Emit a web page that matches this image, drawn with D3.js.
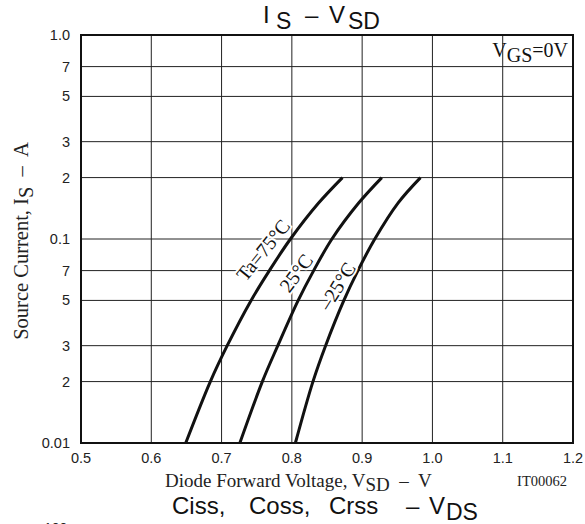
<!DOCTYPE html>
<html>
<head>
<meta charset="utf-8">
<script src="https://cdn.jsdelivr.net/npm/d3@7"></script>
<style>
  body { margin: 0; background: #fff; }
  text { white-space: pre; }
  .sans { font-family: "Liberation Sans", Arial, sans-serif; }
  .serif { font-family: "Liberation Serif", "Times New Roman", serif; }
</style>
</head>
<body>
<div id="chart"></div>
<script>
// Is - Vsd data
const currents = [0.01, 0.02, 0.03, 0.05, 0.07, 0.1, 0.15, 0.2];
const vsd75 = [0.649, 0.684, 0.708, 0.742, 0.768, 0.798, 0.838, 0.872];
const vsd25 = [0.726, 0.758, 0.780, 0.809, 0.831, 0.857, 0.895, 0.928];
const vsdM25 = [0.805, 0.830, 0.848, 0.874, 0.894, 0.918, 0.951, 0.983];

const xTicks = [0.5, 0.6, 0.7, 0.8, 0.9, 1.0, 1.1, 1.2];
const yTicks = [1, 0.7, 0.5, 0.3, 0.2, 0.1, 0.07, 0.05, 0.03, 0.02, 0.01];
const yTickLabels = ['1.0', '7', '5', '3', '2', '0.1', '7', '5', '3', '2', '0.01'];

const series = [
  { name: 'Ta=75°C', v: vsd75, lx: 263, ly: 250, rot: -51 },
  { name: '25°C', v: vsd25, lx: 296, ly: 273, rot: -53 },
  { name: '\u201325°C', v: vsdM25, lx: 337, ly: 286, rot: -58 }
];

const width = 585, height = 524;
const margin = { top: 35, right: 12, bottom: 81, left: 81 };
const innerW = width - margin.left - margin.right;
const innerH = height - margin.top - margin.bottom;

const svg = d3.select('#chart').append('svg')
  .attr('width', width)
  .attr('height', height);

const x = d3.scaleLinear().domain([0.5, 1.2]).range([margin.left, margin.left + innerW]);
const y = d3.scaleLog().domain([0.01, 1]).range([margin.top + innerH, margin.top]);

// grid
const grid = svg.append('g').attr('stroke', '#222').attr('stroke-width', 1);
grid.selectAll('line.vx')
  .data(xTicks.slice(1, -1))
  .join('line')
  .attr('x1', d => x(d)).attr('x2', d => x(d))
  .attr('y1', y(1)).attr('y2', y(0.01));
grid.selectAll('line.hy')
  .data(yTicks.slice(1, -1))
  .join('line')
  .attr('x1', x(0.5)).attr('x2', x(1.2))
  .attr('y1', d => y(d)).attr('y2', d => y(d));

// curves
const line = d3.line()
  .x(d => x(d[0]))
  .y(d => y(d[1]))
  .curve(d3.curveCatmullRom.alpha(0.5));

svg.selectAll('path.curve')
  .data(series)
  .join('path')
  .attr('class', 'curve')
  .attr('d', s => line(s.v.map((v, i) => [v, currents[i]])))
  .attr('fill', 'none')
  .attr('stroke', '#111')
  .attr('stroke-width', 3);

// curve labels, white halo breaks the grid behind them
svg.selectAll('text.lab')
  .data(series)
  .join('text')
  .attr('class', 'lab serif')
  .attr('transform', s => `translate(${s.lx},${s.ly}) rotate(${s.rot})`)
  .attr('text-anchor', 'middle')
  .attr('dy', '0.35em')
  .attr('font-size', 20)
  .attr('fill', '#111')
  .attr('stroke', '#fff')
  .attr('stroke-width', 4)
  .attr('paint-order', 'stroke')
  .text(s => s.name);

// frame
svg.append('rect')
  .attr('x', x(0.5)).attr('y', y(1))
  .attr('width', innerW).attr('height', innerH)
  .attr('fill', 'none')
  .attr('stroke', '#111')
  .attr('stroke-width', 2);

// tick labels
svg.selectAll('text.xt')
  .data(xTicks)
  .join('text')
  .attr('class', 'xt sans')
  .attr('x', d => x(d))
  .attr('y', y(0.01) + 20)
  .attr('text-anchor', 'middle')
  .attr('font-size', 14.5)
  .attr('fill', '#222')
  .text(d => d.toFixed(1));

svg.selectAll('text.yt')
  .data(yTicks)
  .join('text')
  .attr('class', 'yt sans')
  .attr('x', margin.left - 11)
  .attr('y', d => y(d))
  .attr('dy', '0.35em')
  .attr('text-anchor', 'end')
  .attr('font-size', 14.5)
  .attr('fill', '#222')
  .text((d, i) => yTickLabels[i]);

// title
const title = svg.append('text')
  .attr('class', 'sans')
  .attr('font-size', 24)
  .attr('fill', '#111');
title.append('tspan').attr('x', 263).attr('y', 23).text('I');
title.append('tspan').attr('x', 276).attr('y', 29).attr('font-size', 23).text('S');
title.append('tspan').attr('x', 305).attr('y', 23).text('\u2013');
title.append('tspan').attr('x', 329).attr('y', 23).text('V');
title.append('tspan').attr('x', 348).attr('y', 29).attr('font-size', 23).text('SD');

// Vgs note
const note = svg.append('text')
  .attr('class', 'serif')
  .attr('x', 568).attr('y', 57)
  .attr('text-anchor', 'end')
  .attr('font-size', 20)
  .attr('fill', '#111');
note.append('tspan').text('V');
note.append('tspan').attr('dy', 5).text('GS');
note.append('tspan').attr('dy', -5).text('=0V');

// x axis label
const xl = svg.append('text')
  .attr('class', 'serif')
  .attr('x', 165).attr('y', 487)
  .attr('font-size', 19)
  .attr('fill', '#222');
xl.append('tspan').text('Diode Forward Voltage, V');
xl.append('tspan').attr('dy', 4).text('SD');
xl.append('tspan').attr('dy', -4).text('  \u2013  V');

svg.append('text')
  .attr('class', 'serif')
  .attr('x', 567).attr('y', 486)
  .attr('text-anchor', 'end')
  .attr('font-size', 14.5)
  .attr('fill', '#222')
  .text('IT00062');

// y axis label
const yl = svg.append('text')
  .attr('class', 'serif')
  .attr('transform', 'translate(28,241) rotate(-90)')
  .attr('text-anchor', 'middle')
  .attr('font-size', 20.5)
  .attr('fill', '#222');
yl.append('tspan').text('Source Current, I');
yl.append('tspan').attr('dy', 5).text('S');
yl.append('tspan').attr('dy', -5).text('  \u2013  A');

// title of the next chart, cut off at the bottom
const t2 = svg.append('text')
  .attr('class', 'sans')
  .attr('font-size', 24)
  .attr('fill', '#111');
t2.append('tspan').attr('x', 172).attr('y', 514).text('Ciss,');
t2.append('tspan').attr('x', 249).attr('y', 514).text('Coss,');
t2.append('tspan').attr('x', 329).attr('y', 514).text('Crss');
t2.append('tspan').attr('x', 406).attr('y', 514).text('\u2013');
t2.append('tspan').attr('x', 429).attr('y', 514).text('V');
t2.append('tspan').attr('x', 446).attr('y', 520).attr('font-size', 23).text('DS');

svg.append('text')
  .attr('class', 'sans')
  .attr('x', 44).attr('y', 533)
  .attr('font-size', 14)
  .attr('fill', '#222')
  .text('100');
</script>
</body>
</html>
